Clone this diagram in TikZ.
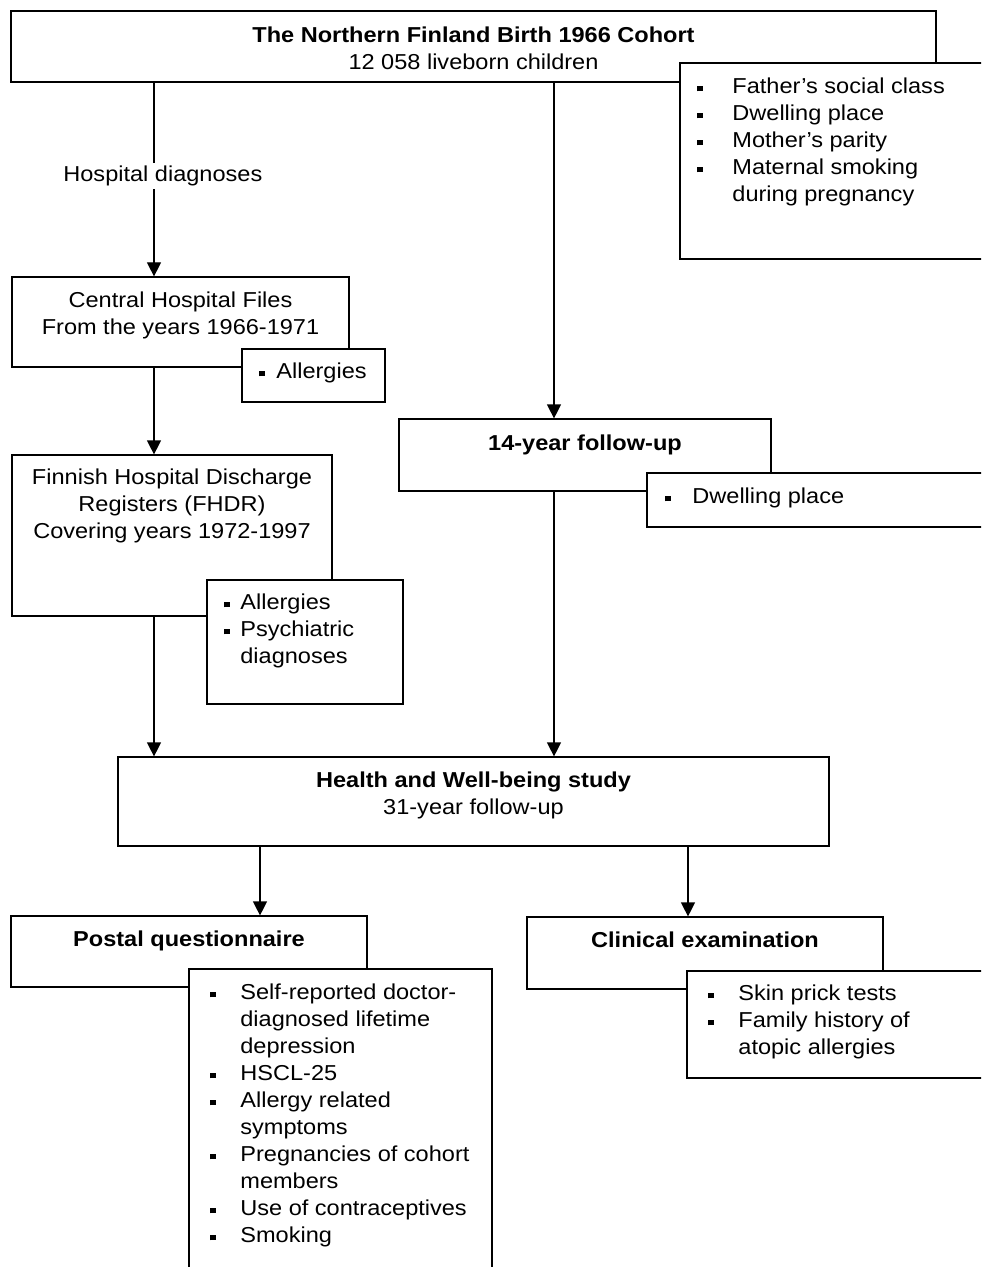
\documentclass[tikz,border=0pt]{standalone}
\usepackage{fontspec}
\setmainfont{Liberation Sans}[FakeStretch=1.09]
\usetikzlibrary{fit,arrows.meta}
\newcommand\fs{\fontsize{10.8}{13.5}\selectfont}
\newcommand\bu[1]{\makebox[#1][l]{\rule[1pt]{2.6pt}{2.7pt}}}
\begin{document}
\begin{tikzpicture}[x=0.5pt,y=-0.5pt,
  box/.style={draw, line width=0.6pt, fill=white, inner sep=0pt},
  txt/.style={inner sep=0pt, font=\fs},
  ctxt/.style={txt, align=center, anchor=north},
  ltxt/.style={txt, align=left, anchor=north west},
  arr/.style={line width=0.6pt, -{Triangle[width=7pt,length=7pt]}},
]
\fill[white] (0,0) rectangle (981,1267);
\clip (0,0) rectangle (981,1267);
% boxes
\node[box, fit={(11,11)(936,82)}] (top) {};
\node[box, fit={(680,63)(1000,259)}] (father) {};
\node[box, fit={(12,277)(349,367)}] (central) {};
\node[box, fit={(242,349)(385,402)}] (allA) {};
\node[box, fit={(12,455)(332,616)}] (fhdr) {};
\node[box, fit={(207,580)(403,704)}] (allB) {};
\node[box, fit={(399,419)(771,491)}] (fu) {};
\node[box, fit={(647,473)(1000,527)}] (dwell) {};
\node[box, fit={(118,757)(829,846)}] (health) {};
\node[box, fit={(11,916)(367,987)}] (postal) {};
\node[box, fit={(189,969)(492,1300)}] (plist) {};
\node[box, fit={(527,917)(883,989)}] (clin) {};
\node[box, fit={(687,971)(1000,1078)}] (clist) {};
% connector columns
\coordinate (xa) at (154,0);
\coordinate (xb) at (554,0);
\coordinate (xc) at (260,0);
\coordinate (xd) at (688,0);
\draw[arr] (xa |- top.south) -- (xa |- central.north);
\node[txt, anchor=base west, fill=white, inner ysep=1.5pt] (hd) at (63,182) {Hospital diagnoses};
\draw[arr] (xa |- central.south) -- (xa |- fhdr.north);
\draw[arr] (xa |- fhdr.south) -- (xa |- health.north);
\draw[arr] (xb |- top.south) -- (xb |- fu.north);
\draw[arr] (xb |- fu.south) -- (xb |- health.north);
\draw[arr] (xc |- health.south) -- (xc |- postal.north);
\draw[arr] (xd |- health.south) -- (xd |- clin.north);
% texts
\node[ctxt] (ttop) at (473.5,23.1) {\strut\textbf{The Northern Finland Birth 1966 Cohort}\\12 058 liveborn children};
\node[ltxt] (tfather) at (697,74.1) {\strut\bu{17.5pt}Father’s social class\\\bu{17.5pt}Dwelling place\\\bu{17.5pt}Mother’s parity\\\bu{17.5pt}Maternal smoking\\\hspace*{17.5pt}during pregnancy};
\node[ctxt] (tcentral) at (180.5,288.1) {\strut Central Hospital Files\\From the years 1966-1971};
\node[ltxt] (tallA) at (259,359.1) {\strut\bu{8.5pt}Allergies};
\node[ctxt] (tfhdr) at (172,465.1) {\strut Finnish Hospital Discharge\\Registers (FHDR)\\Covering years 1972-1997};
\node[ltxt] (tallB) at (224,590.1) {\strut\bu{8pt}Allergies\\\bu{8pt}Psychiatric\\\hspace*{8pt}diagnoses};
\node[txt, anchor=base] (tfu) at (585,450) {\textbf{14-year follow-up}};
\node[ltxt] (tdwell) at (665,484.1) {\strut\bu{13.5pt}Dwelling place};
\node[ctxt] (thealth) at (473.5,768.1) {\strut\textbf{Health and Well-being study}\\31-year follow-up};
\node[txt, anchor=base] (tpostal) at (189,946) {\textbf{Postal questionnaire}};
\node[ltxt] (tplist) at (210,980.1) {\strut\bu{15pt}Self-reported doctor-\\\hspace*{15pt}diagnosed lifetime\\\hspace*{15pt}depression\\\bu{15pt}HSCL-25\\\bu{15pt}Allergy related\\\hspace*{15pt}symptoms\\\bu{15pt}Pregnancies of cohort\\\hspace*{15pt}members\\\bu{15pt}Use of contraceptives\\\bu{15pt}Smoking};
\node[txt, anchor=base] (tclin) at (705,947) {\textbf{Clinical examination}};
\node[ltxt] (tclist) at (708,981.1) {\strut\bu{15pt}Skin prick tests\\\bu{15pt}Family history of\\\hspace*{15pt}atopic allergies};
\end{tikzpicture}
\end{document}
